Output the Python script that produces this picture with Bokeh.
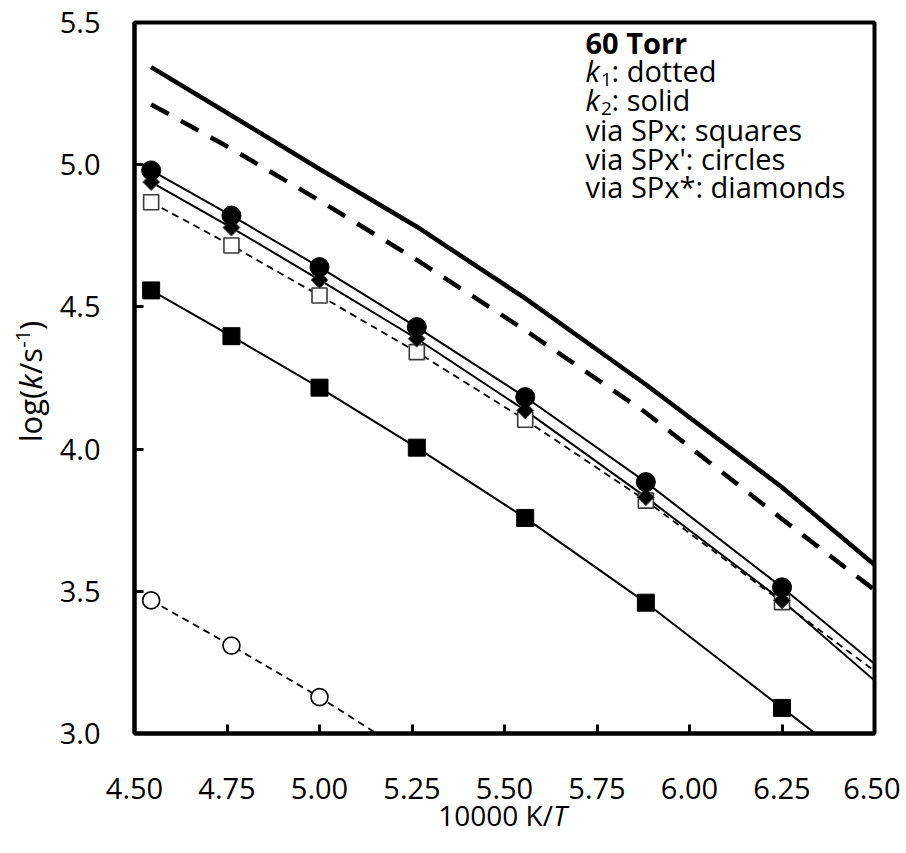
import numpy as np
from bokeh.plotting import figure
from bokeh.layouts import row, column
from bokeh.models import Label, FixedTicker, Range1d, NumeralTickFormatter
from bokeh.embed import file_html
from bokeh.resources import INLINE

# ---------------- data ----------------
inv_T = [4.545, 4.762, 5.000, 5.263, 5.556, 5.882, 6.250]        # 10000 K / T
inv_T_line = [4.545, 4.762, 5.000, 5.263, 5.556, 5.882, 6.250, 6.500]

k2_total = [5.343, 5.173, 4.985, 4.782, 4.530, 4.227, 3.866, 3.593]   # thick solid
k1_total = [5.212, 5.056, 4.874, 4.665, 4.418, 4.128, 3.754, 3.505]   # thick dashed

k2_via_spx = [4.558, 4.397, 4.216, 4.005, 3.758, 3.460, 3.090]        # filled squares
k2_via_spx_end = 2.840
k1_via_spx = [4.868, 4.716, 4.540, 4.341, 4.103, 3.819, 3.462]        # open squares
k1_via_spx_end = 3.220
k2_via_spxp = [4.980, 4.821, 4.640, 4.429, 4.183, 3.884, 3.514]       # filled circles
k2_via_spxp_end = 3.245
k2_via_spxs = [4.939, 4.779, 4.595, 4.388, 4.136, 3.831, 3.468]       # filled diamonds
k2_via_spxs_end = 3.186
inv_T_open_circ = [4.545, 4.762, 5.000, 5.263]
k1_via_spxp = [3.468, 3.309, 3.128, 2.910]                           # open circles

x_ticks = [4.50, 4.75, 5.00, 5.25, 5.50, 5.75, 6.00, 6.25, 6.50]
y_ticks = [3.0, 3.5, 4.0, 4.5, 5.0, 5.5]

FONT = "Open Sans"
BASE_FIX = 0.35   # em: shift that puts a Label's alphabetic baseline where wanted

# ---------------- geometry (page pixels) ----------------
YW = 56                      # strip left of the plot for the y title
FL, FT, FW, FH = 132, 22, 740, 711   # frame left/top/width/height on the page
MR = 26
MB = 90
PH = FT + FH + MB            # height of the plot row
XTOP = 790                   # top of the x-title strip (overlaps the plot's bottom border)
XH = 60

# ---------------- main figure ----------------
p = figure(title=None, frame_width=FW, frame_height=FH,
           x_range=Range1d(4.5, 6.5), y_range=Range1d(3.0, 5.5),
           output_backend="svg", toolbar_location=None,
           min_border_left=FL - YW, min_border_right=MR,
           min_border_top=FT, min_border_bottom=MB)
p.background_fill_color = "white"
p.border_fill_color = "white"
p.outline_line_color = "black"
p.outline_line_width = 4
p.grid.visible = False

for ax in (p.xaxis, p.yaxis):
    ax.axis_line_color = "black"
    ax.axis_line_width = 4
    ax.major_tick_in = 9
    ax.major_tick_out = 0
    ax.major_tick_line_width = 3
    ax.major_tick_line_color = "black"
    ax.minor_tick_line_color = None
    ax.major_label_text_font = FONT
    ax.major_label_text_font_size = "29px"
    ax.major_label_text_color = "black"

p.xaxis.ticker = FixedTicker(ticks=x_ticks)
p.yaxis.ticker = FixedTicker(ticks=y_ticks)
p.xaxis.formatter = NumeralTickFormatter(format="0.00")
p.yaxis.formatter = NumeralTickFormatter(format="0.0")
p.xaxis.major_label_standoff = 44
p.yaxis.major_label_standoff = 34

# ---------------- lines ----------------
p.line(inv_T_line, k2_total, line_color="black", line_width=4.5)
p.line(inv_T_line, k1_total, line_color="black", line_width=4.5, line_dash="20 14")

p.line(inv_T_line, k2_via_spx + [k2_via_spx_end], line_color="black", line_width=2)
p.line(inv_T_line, k1_via_spx + [k1_via_spx_end], line_color="black", line_width=1.8, line_dash="7 5")
p.line(inv_T_line, k2_via_spxp + [k2_via_spxp_end], line_color="black", line_width=2)
p.line(inv_T_line, k2_via_spxs + [k2_via_spxs_end], line_color="black", line_width=2)
p.line(inv_T_open_circ, k1_via_spxp, line_color="black", line_width=1.8, line_dash="7 5")

# ---------------- markers ----------------
p.scatter(inv_T, k1_via_spx, marker="square", size=15, fill_color="white",
          line_color="#3a3a3a", line_width=1.6)
p.scatter(inv_T, k2_via_spx, marker="square", size=17, fill_color="black", line_color="black")
p.scatter(inv_T, k2_via_spxs, marker="square", angle=np.pi / 4, size=12,
          fill_color="black", line_color="#555555", line_width=1)
p.scatter(inv_T, k2_via_spxp, marker="circle", size=19, fill_color="black", line_color="black")
p.scatter(inv_T_open_circ, k1_via_spxp, marker="circle", size=17, fill_color="white",
          line_color="black", line_width=1.6)


# ---------------- text helpers ----------------
def lab(fig, x, y, text, size, style="normal", angle=0.0):
    fig.add_layout(Label(x=x, y=y, text=text, text_font=FONT,
                         text_font_size=f"{size}px", text_font_style=style,
                         text_color="black", text_baseline="alphabetic",
                         text_align="left", angle=angle))


def plab(px, py, text, size, style="normal"):
    """label in the main plot, given by page pixel of its baseline start"""
    py = py - BASE_FIX * size
    x = 4.5 + (px - FL) / FW * 2.0
    y = 3.0 + (FT + FH - py) / FH * 2.5
    lab(p, x, y, text, size, style)


LX = 583.0
LS = 29
SS = 19
plab(LX, 51.7, "60 Torr", LS, "bold")
plab(LX, 80.0, "k", LS, "italic")
plab(LX + 15.5, 85.5, "1", SS)
plab(LX + 26.0, 80.0, ": dotted", LS)
plab(LX, 109.3, "k", LS, "italic")
plab(LX + 15.5, 114.8, "2", SS)
plab(LX + 26.0, 109.3, ": solid", LS)
plab(LX, 139.0, "via SPx: squares", LS)
plab(LX, 167.7, "via SPx': circles", LS)
plab(LX, 196.5, "via SPx*: diamonds", LS)

# ---------------- y title strip ----------------
yfig = figure(title=None, frame_width=YW, frame_height=PH,
              x_range=Range1d(0, YW), y_range=Range1d(0, PH),
              output_backend="svg", toolbar_location=None,
              min_border=0, x_axis_location=None, y_axis_location=None)
yfig.grid.visible = False
yfig.outline_line_color = None
yfig.background_fill_color = "white"
yfig.border_fill_color = "white"

YS = 31
SUP = 20
pieces = [("log(", (0.253 + 0.604 + 0.55 + 0.296) * YS, YS, "normal", 0),
          ("k", 0.498 * YS, YS, "italic", 0),
          ("/s", (0.371 + 0.477) * YS, YS, "normal", 0),
          ("-1", (0.322 + 0.572) * SUP, SUP, "normal", -11),
          (")", 0.296 * YS, YS, "normal", 0)]
total = sum(pc[1] for pc in pieces)
base_x = 40.0
pos = (PH - 359.0) - total / 2
for txt, w, s, st, shift in pieces:
    lab(yfig, base_x + shift - BASE_FIX * s, pos, txt, s, st, angle=np.pi / 2)
    pos += w

# ---------------- x title strip (transparent, overlapping the plot's bottom border) ----------------
TW = FL + FW + MR
xfig = figure(title=None, frame_width=TW, frame_height=XH,
              x_range=Range1d(0, TW), y_range=Range1d(0, XH),
              output_backend="svg", toolbar_location=None,
              min_border=0, x_axis_location=None, y_axis_location=None,
              margin=(XTOP - PH, 0, 0, 0))
xfig.grid.visible = False
xfig.outline_line_color = None
xfig.background_fill_color = None
xfig.border_fill_color = None

XS = 28
w1 = (5 * 0.572 + 0.26 + 0.604 + 0.371) * XS
w2 = 0.53 * XS
x0 = 502.5 - (w1 + w2) / 2
base_y = (XTOP + XH) - (824 - BASE_FIX * XS)
lab(xfig, x0, base_y, "10000 K/", XS)
lab(xfig, x0 + w1, base_y, "T", XS, "italic")

layout = column(row(yfig, p, spacing=0), xfig, spacing=0)
open("out.html", "w").write(file_html(layout, INLINE))
